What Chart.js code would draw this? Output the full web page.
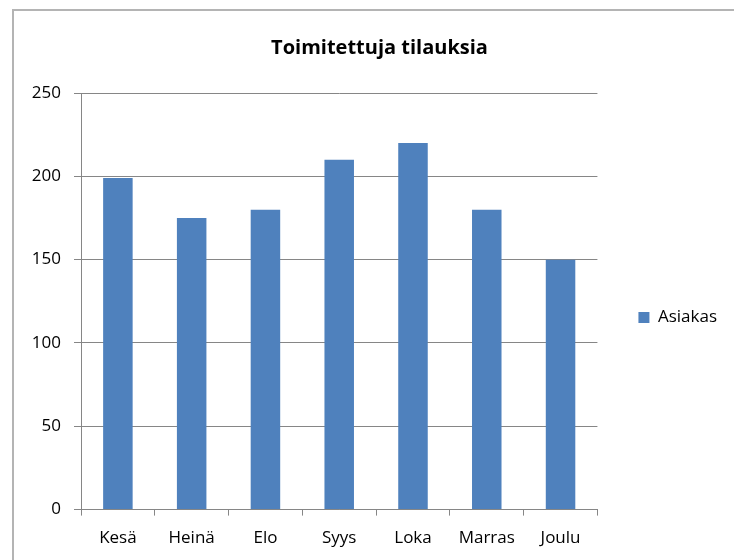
<!DOCTYPE html>
<html>
<head>
<meta charset="utf-8">
<script src="https://cdn.jsdelivr.net/npm/chart.js@4"></script>
<style>
  body { margin: 0; background: #fff; }
  #frame {
    position: absolute; left: 12px; top: 9px; width: 760px; height: 600px;
    border-top: 2px solid #b4b4b4; border-left: 2px solid #b4b4b4;
  }
  #myChart { position: absolute; left: 0; top: 0; }
</style>
</head>
<body>
<div id="frame"></div>
<canvas id="myChart" width="734" height="560"></canvas>
<script>
const months = ["Kesä", "Heinä", "Elo", "Syys", "Loka", "Marras", "Joulu"];
const asiakas = [199, 175, 180, 210, 220, 180, 150];
const yTicks = [0, 50, 100, 150, 200, 250];

const ctx = document.getElementById("myChart");
const font = "Open Sans";

var chart = new Chart(ctx, {
  type: "bar",
  data: {
    labels: months,
    datasets: [
      {
        label: "Asiakas",
        data: asiakas,
        backgroundColor: "#4f81bd",
        borderWidth: 0,
        barPercentage: 0.4,
        categoryPercentage: 1,
      },
    ],
  },
  options: {
    responsive: false,
    animation: false,
    layout: {
      padding: { left: 32, top: 0, right: 7, bottom: 0 },
    },
    plugins: {
      title: {
        display: true,
        text: "Toimitettuja tilauksia",
        color: "#000",
        font: { family: font, size: 20, weight: "bold" },
        padding: { top: 36, bottom: 33 },
      },
      legend: {
        position: "right",
        title: {
          display: true,
          text: " ",
          font: { size: 1 },
          padding: { top: 74, bottom: 0 },
        },
        labels: {
          color: "#000",
          font: { family: font, size: 17 },
          boxWidth: 11,
          boxHeight: 11,
          padding: 41,
        },
      },
      tooltip: { enabled: false },
    },
    scales: {
      x: {
        grid: {
          drawOnChartArea: false,
          drawTicks: true,
          tickLength: 6,
          color: "#868686",
          offset: true,
        },
        border: { color: "#868686", width: 1 },
        ticks: {
          color: "#000",
          font: { family: font, size: 17 },
          padding: 12,
        },
      },
      y: {
        min: 0,
        max: 250,
        // axis line has to sit at x = 81
        afterFit: function (scale) {
          scale.width = 49;
        },
        afterBuildTicks: function (scale) {
          scale.ticks = yTicks.map(function (v) { return { value: v }; });
        },
        grid: {
          color: "#868686",
          tickLength: 7,
          lineWidth: 1,
        },
        border: { color: "#868686", width: 1 },
        ticks: {
          color: "#000",
          font: { family: font, size: 17 },
          padding: 13,
        },
      },
    },
  },
});
</script>
</body>
</html>
